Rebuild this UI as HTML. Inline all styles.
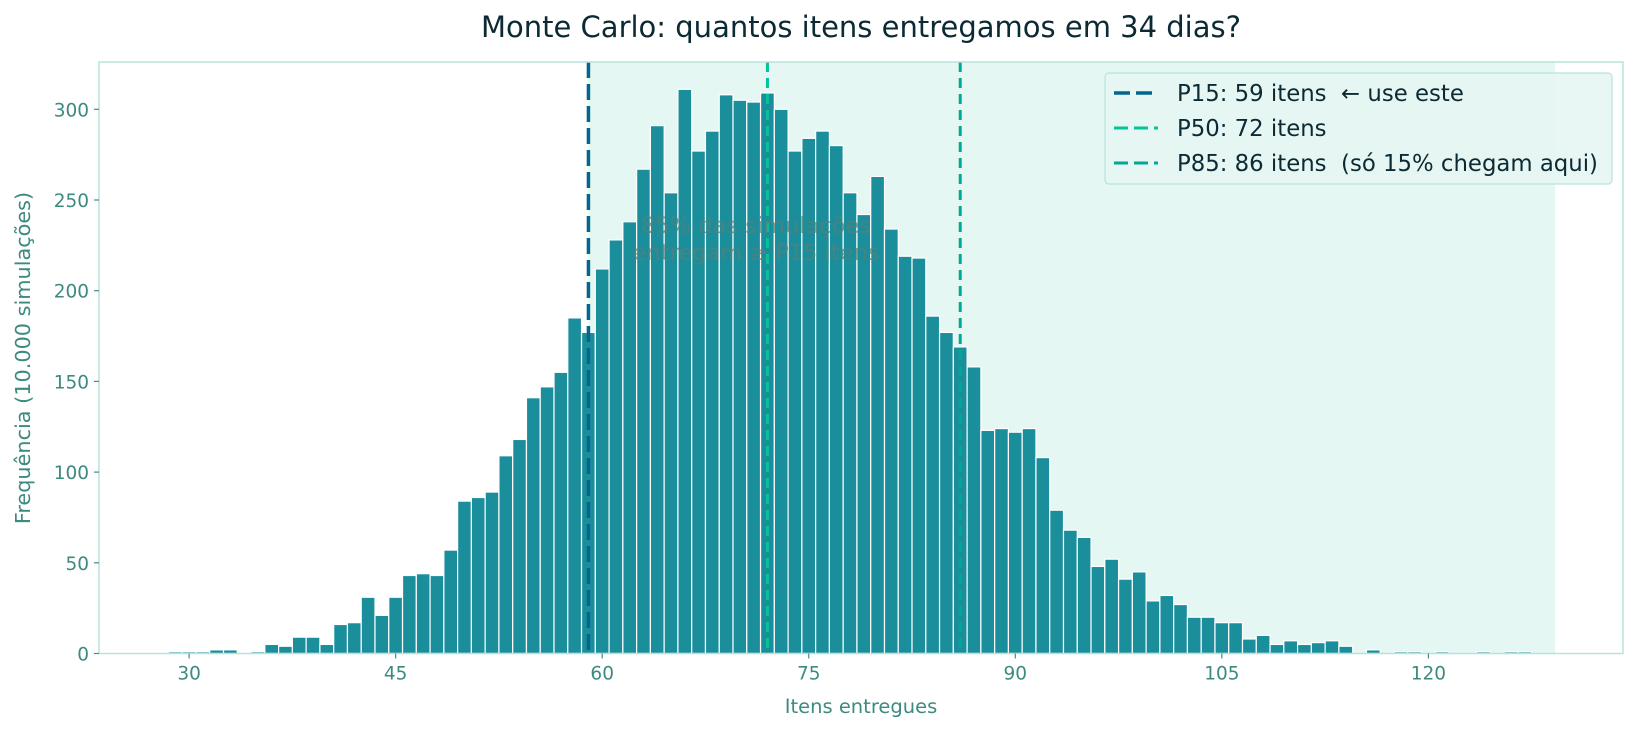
<!DOCTYPE html>
<html><head><meta charset="utf-8">
<style>
html,body{margin:0;padding:0;background:#fff;}
svg{display:block;font-family:"DejaVu Sans","Liberation Sans",sans-serif;}
</style></head>
<body>
<svg id="chart" width="1634" height="732" viewBox="0 0 1634 732" xmlns="http://www.w3.org/2000/svg">
<rect width="1634" height="732" fill="#ffffff"/>
<text x="861" y="37" text-anchor="middle" font-size="29" fill="#0b2a33">Monte Carlo: quantos itens entregamos em 34 dias?</text>
<g id="plot"></g>
</svg>
<script>
const binStart = 29;
const counts = [1,1,1,2,2,0,1,5,4,9,9,5,16,17,31,21,31,43,44,43,57,84,86,89,109,118,141,147,155,185,177,
212,228,238,267,291,254,311,277,288,308,305,304,309,300,277,284,288,280,254,242,263,234,219,218,186,177,169,
158,123,124,122,124,108,79,68,64,48,52,41,45,29,32,27,20,20,17,17,8,10,5,7,5,6,7,4,0,2,0,1,1,0,1,0,0,1,0,1,1];
const xTicks = [30,45,60,75,90,105,120];
const yTicks = [0,50,100,150,200,250,300];
const pctValues = [59,72,86];
const pctColors = ["#05668d","#02c39a","#00a896"];
const shadeRange = [59,129.2];

const L=99,R=1623,T=62,B=653.5;
const X = v => -224 + v*13.77;
const Y = v => B - v*1.814;
const ns="http://www.w3.org/2000/svg";
const g=document.getElementById('plot');
function mk(tag,attrs){const e=document.createElementNS(ns,tag);for(const k in attrs)e.setAttribute(k,attrs[k]);g.appendChild(e);return e;}

const shade=mk('rect',{x:X(shadeRange[0]),y:T,width:X(shadeRange[1])-X(shadeRange[0]),height:B-T,fill:"#e4f7f3"});



counts.forEach((c,i)=>{
  const v=binStart+i;
  if(c<=0) return;
  const b=mk('rect',{x:X(v-0.5),y:Y(c),width:13.77,height:B-Y(c),fill:"#1b8e9c",stroke:"#ffffff","stroke-width":1.2});
  
  
});

pctValues.forEach((p,i)=>{
  const l=mk('line',{x1:X(p),x2:X(p),y1:T,y2:B,stroke:pctColors[i],"stroke-width":i===0?3.5:3,"stroke-dasharray":i===0?"16,6":"10,6"});
  
  
});

const sp=mk('rect',{x:L,y:T,width:R-L,height:B-T,fill:"none",stroke:"#b8e3dd","stroke-width":1.5});



xTicks.forEach(t=>{
  const tk=mk('line',{x1:X(t),x2:X(t),y1:B,y2:B+5,stroke:"#4a8a80","stroke-width":1.2});
  
  
  const tx=mk('text',{x:X(t),y:B+26,"text-anchor":"middle","font-size":18.5,fill:"#3d8a80"});
  tx.textContent=t;
  
  
});
yTicks.forEach(t=>{
  const tk=mk('line',{x1:L-5,x2:L,y1:Y(t),y2:Y(t),stroke:"#4a8a80","stroke-width":1.2});
  
  
  const tx=mk('text',{x:L-10,y:Y(t)+7,"text-anchor":"end","font-size":18.5,fill:"#3d8a80"});
  tx.textContent=t;
  
  
});

const xl=mk('text',{x:861,y:713,"text-anchor":"middle","font-size":19.5,fill:"#3d8a80"});
xl.textContent="Itens entregues";


const yl=mk('text',{x:30,y:358,"text-anchor":"middle","font-size":20.8,fill:"#3d8a80",transform:"rotate(-90 30 358)"});
yl.textContent="Frequência (10.000 simulações)";



const a1=mk('text',{x:756,y:233,"text-anchor":"middle","font-size":22.5,fill:"#5a7f78","fill-opacity":0.75});
a1.textContent="85% das simulações";


const a2=mk('text',{x:756,y:260,"text-anchor":"middle","font-size":22.5,fill:"#5a7f78","fill-opacity":0.75});
a2.textContent="entregam ≥ P15 itens";



const lg=mk('rect',{x:1105,y:73,width:507,height:111,rx:4,fill:"#e6f5f3","fill-opacity":0.9,stroke:"#b8e3dd","stroke-width":1.2});


const labels=["P15: 59 itens  ← use este","P50: 72 itens","P85: 86 itens  (só 15% chegam aqui)"];
labels.forEach((s,i)=>{
  const y=93+i*35;
  const ln=mk('line',{x1:1114,x2:1158,y1:y,y2:y,stroke:pctColors[i],"stroke-width":i===0?3.5:3,"stroke-dasharray":i===0?"16,6":"14,6"});
  
  
  const t=mk('text',{x:1177,y:y+8,"font-size":22.8,fill:"#0b2a33"});
  t.style.whiteSpace="pre";
  t.textContent=s;
  
  
});
</script>
</body></html>
